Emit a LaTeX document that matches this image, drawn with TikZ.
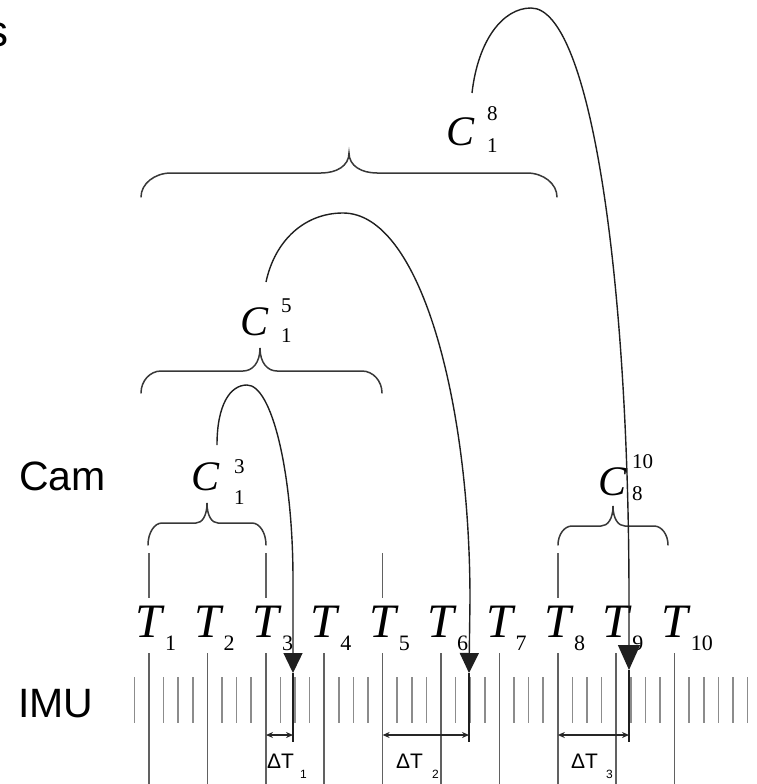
\documentclass[tikz,border=0pt]{standalone}
\usepackage{fontspec}
\setmainfont{Liberation Serif}
\newfontfamily\sansf{Liberation Sans}
\usetikzlibrary{arrows.meta}
% brace: xl xr xm yh drop rise w c
\newcommand\mybrace[8]{%
 \draw[bracestyle] ({#1},{#4+#5}) .. controls ({#1},{#4+0.45*#5}) and ({#1+0.45*#7},{#4}) .. ({#1+#7},{#4})
  -- ({#3-#8},{#4}) .. controls ({#3-0.45*#8},{#4}) and ({#3},{#4-0.35*#6}) .. ({#3},{#4-#6})
  .. controls ({#3},{#4-0.35*#6}) and ({#3+0.45*#8},{#4}) .. ({#3+#8},{#4})
  -- ({#2-#7},{#4}) .. controls ({#2-0.45*#7},{#4}) and ({#2},{#4+0.45*#5}) .. ({#2},{#4+#5});}
\begin{document}
\begin{tikzpicture}[x=1pt,y=-1pt,
 frame/.style={draw=black!62,line width=1.5pt},
 imutick/.style={draw=black!45,line width=1.6pt},
 curve/.style={draw=black!88,line width=1.4pt},
 bracestyle/.style={draw=black!78,line width=1.5pt,line cap=round},
 Tlab/.style={font=\fontsize{48}{48}\selectfont\itshape,inner sep=0pt,anchor=base},
 Tsub/.style={font=\fontsize{22}{22}\selectfont,inner sep=0pt,anchor=base west},
 Clab/.style={font=\fontsize{42}{42}\selectfont\itshape,inner sep=0pt,anchor=base},
 Cscript/.style={font=\fontsize{21}{21}\selectfont,inner sep=0pt,anchor=base west},
 sidelab/.style={font=\sansf\fontsize{41}{41}\selectfont,inner sep=0pt,anchor=base west},
 dtlab/.style={font=\sansf\fontsize{21}{21}\selectfont,inner sep=0pt,anchor=base west},
 dtsub/.style={font=\sansf\fontsize{12}{12}\selectfont,inner sep=0pt,anchor=base west},
 tipA/.style={-{Triangle[length=20pt,width=19pt]}},
 tipB/.style={-{Triangle[length=25pt,width=22pt]}},
 dtarrow/.style={{Stealth[length=7pt,width=6pt]}-{Stealth[length=7pt,width=6pt]},draw=black!85,line width=1.2pt}
]
\useasboundingbox (0,0) rectangle (756,784);

% fragment of cut-off text
\node[font=\sansf\fontsize{44}{44}\selectfont,inner sep=0pt,anchor=base east] (frag) at (9,47) {s};

% side labels
\node[sidelab] (cam) at (19,490) {Cam};
\node[sidelab] (imu) at (18,717) {IMU};

% IMU ticks
\foreach \j in {-1,...,41} {
  \pgfmathtruncatemacro\m{mod(\j+4,4)}
  \pgfmathsetmacro\ix{149+14.6*\j}
  \ifnum\m=0 \ifnum\j>36 \draw[imutick] (\ix,677) -- (\ix,723); \fi
  \else \draw[imutick] (\ix,677) -- (\ix,723); \fi
}

% frames
\foreach \k in {1,...,10} {
  \pgfmathsetmacro\tx{149+58.4*(\k-1)}
  \node[Tlab] (T\k) at (\tx,637) {T};
  \node[Tsub] (s\k) at (\tx+16,650) {\k};
  \draw[frame] (\tx,653) -- (\tx,784);
}
\foreach \k in {1,3,5,8} {
  \pgfmathsetmacro\tx{149+58.4*(\k-1)}
  \draw[frame] (\tx,553) -- (\tx,598);
}

% braces
\mybrace{148}{266}{207}{523}{22}{20}{14}{11}
\mybrace{141}{382}{260}{371}{22}{23}{20}{17}
\mybrace{141}{557}{349}{173}{24}{20}{30}{28}
\mybrace{558}{668}{613}{526}{19}{20}{14}{12}

% C labels
\node[Clab] (C13) at (206,490) {C};
\node[Cscript] (C13a) at (234,473) {3};
\node[Cscript] (C13b) at (234,504) {1};
\node[Clab] (C15) at (255,335) {C};
\node[Cscript] (C15a) at (281,312) {5};
\node[Cscript] (C15b) at (281,342) {1};
\node[Clab] (C18) at (461,145) {C};
\node[Cscript] (C18a) at (487,120) {8};
\node[Cscript] (C18b) at (487,152) {1};
\node[Clab] (C810) at (612,495) {C};
\node[Cscript] (C810a) at (632,468) {10};
\node[Cscript] (C810b) at (632,500) {8};

% arrows
\coordinate (a1s) at (217,445);
\coordinate (a1e) at (293,673);
\coordinate (a1b) at (293,742);
\draw[curve,tipA] (a1s) .. controls (217,405) and (230,385) .. (247,385)
   .. controls (272,385) and (293,473) .. (293,580) -- (a1e);
\draw[curve] (a1e) -- (a1b);

\coordinate (a2s) at (266,282);
\coordinate (a2e) at (469,673);
\coordinate (a2b) at (469,742);
\draw[curve,tipA] (a2s) .. controls (275,240) and (305,213) .. (343,213)
   .. controls (420,213) and (470,400) .. (470,600) -- (a2e);
\draw[curve] (a2e) -- (a2b);

\coordinate (a3s) at (472,93);
\coordinate (a3e) at (629,670);
\coordinate (a3b) at (629,742);
\draw[curve,tipB] (a3s) .. controls (478,40) and (503,8) .. (531,8)
   .. controls (590,8) and (629,274) .. (629,600) -- (a3e);
\draw[curve] (a3e) -- (a3b);

% delta T
\coordinate (d1l) at (266,735);
\coordinate (d2l) at (382.6,735);
\coordinate (d3l) at (557.8,735);
\draw[dtarrow] (d1l) -- (a1b |- d1l);
\draw[dtarrow] (d2l) -- (a2b |- d2l);
\draw[dtarrow] (d3l) -- (a3b |- d3l);
\node[dtlab] (dt1) at (267,768) {ΔT};
\node[dtsub] (dt1s) at (300,778) {1};
\node[dtlab] (dt2) at (396,768) {ΔT};
\node[dtsub] (dt2s) at (432,778) {2};
\node[dtlab] (dt3) at (571,768) {ΔT};
\node[dtsub] (dt3s) at (606,778) {3};
\end{tikzpicture}
\end{document}
